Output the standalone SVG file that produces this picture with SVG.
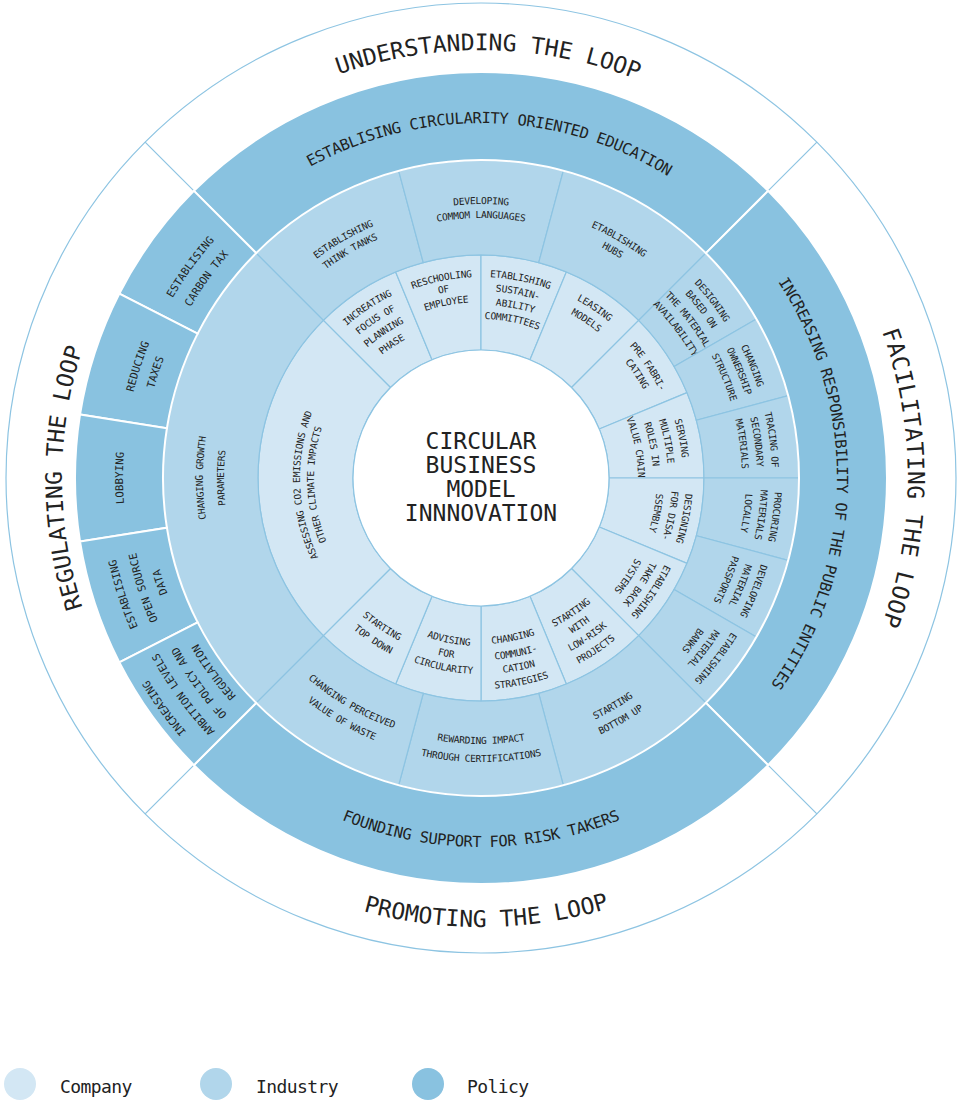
<svg xmlns="http://www.w3.org/2000/svg" xmlns:xlink="http://www.w3.org/1999/xlink" width="960" height="1100" viewBox="0 0 960 1100">
<style>
.co{fill:#d3e7f4;stroke:#8dc4e2;stroke-width:1.2}
.in{fill:#b1d6eb;stroke:#8dc4e2;stroke-width:1.2}
.po{fill:#89c2e0;stroke:#ffffff;stroke-width:2}
.ln{stroke:#8dc4e2;stroke-width:1.2;fill:none}
text{font-family:"DejaVu Sans Mono","Liberation Mono",monospace;fill:#222222;text-anchor:middle}
.s{font-size:9.6px;letter-spacing:-0.25px}
.ps{font-size:10.8px}
.pm{font-size:15.4px;letter-spacing:-0.35px}
.lp{font-size:23px}
.ct{font-size:23px}
.lg{font-size:18px;letter-spacing:-0.6px;text-anchor:start}
</style>
<defs>
<path id="c22" d="M-43.51-218.72A223 223 0 0 1 43.51-218.72L24.97-125.54A128 128 0 0 0-24.97-125.54Z"/>
<path id="c90" d="M-157.69-157.69A223 223 0 0 1 157.69-157.69L90.51-90.51A128 128 0 0 0-90.51-90.51Z"/>
<path id="i30" d="M-82.31-307.17A318 318 0 0 1 82.31-307.17L57.72-215.4A223 223 0 0 0-57.72-215.4Z"/>
<path id="i15" d="M-41.51-315.28A318 318 0 0 1 41.51-315.28L29.11-221.09A223 223 0 0 0-29.11-221.09Z"/>
<path id="i90" d="M-224.86-224.86A318 318 0 0 1 224.86-224.86L157.69-157.69A223 223 0 0 0-157.69-157.69Z"/>
<path id="p90" d="M-287.09-287.09A406 406 0 0 1 287.09-287.09L224.86-224.86A318 318 0 0 0-224.86-224.86Z"/>
<path id="p18" d="M-63.51-401A406 406 0 0 1 63.51-401L49.75-314.09A318 318 0 0 0-49.75-314.09Z"/>
<path id="a157" d="M-157 0A157 157 0 0 1 157 0"/>
<path id="a158" d="M-158 0A158 158 0 0 1 158 0"/>
<path id="a159" d="M-159 0A159 159 0 0 1 159 0"/>
<path id="a167" d="M-167 0A167 167 0 0 1 167 0"/>
<path id="a172" d="M-172 0A172 172 0 0 1 172 0"/>
<path id="a173" d="M-173 0A173 173 0 0 1 173 0"/>
<path id="a174" d="M-174 0A174 174 0 0 1 174 0"/>
<path id="a176" d="M-176 0A176 176 0 0 1 176 0"/>
<path id="a181" d="M-181 0A181 181 0 0 1 181 0"/>
<path id="a185" d="M-185 0A185 185 0 0 1 185 0"/>
<path id="a187" d="M-187 0A187 187 0 0 1 187 0"/>
<path id="a188" d="M-188 0A188 188 0 0 1 188 0"/>
<path id="a189" d="M-189 0A189 189 0 0 1 189 0"/>
<path id="a191" d="M-191 0A191 191 0 0 1 191 0"/>
<path id="a199" d="M-199 0A199 199 0 0 1 199 0"/>
<path id="a201" d="M-201 0A201 201 0 0 1 201 0"/>
<path id="a202" d="M-202 0A202 202 0 0 1 202 0"/>
<path id="a203" d="M-203 0A203 203 0 0 1 203 0"/>
<path id="a205" d="M-205 0A205 205 0 0 1 205 0"/>
<path id="a244" d="M-244 0A244 244 0 0 1 244 0"/>
<path id="a257" d="M-257 0A257 257 0 0 1 257 0"/>
<path id="a259" d="M-259 0A259 259 0 0 1 259 0"/>
<path id="a260" d="M-260 0A260 260 0 0 1 260 0"/>
<path id="a261" d="M-261 0A261 261 0 0 1 261 0"/>
<path id="a263" d="M-263 0A263 263 0 0 1 263 0"/>
<path id="a264" d="M-264 0A264 264 0 0 1 264 0"/>
<path id="a265" d="M-265 0A265 265 0 0 1 265 0"/>
<path id="a274" d="M-274 0A274 274 0 0 1 274 0"/>
<path id="a275" d="M-275 0A275 275 0 0 1 275 0"/>
<path id="a276" d="M-276 0A276 276 0 0 1 276 0"/>
<path id="a277" d="M-277 0A277 277 0 0 1 277 0"/>
<path id="a278" d="M-278 0A278 278 0 0 1 278 0"/>
<path id="a280" d="M-280 0A280 280 0 0 1 280 0"/>
<path id="a289" d="M-289 0A289 289 0 0 1 289 0"/>
<path id="a291" d="M-291 0A291 291 0 0 1 291 0"/>
<path id="a293" d="M-293 0A293 293 0 0 1 293 0"/>
<path id="a294" d="M-294 0A294 294 0 0 1 294 0"/>
<path id="a328" d="M-328 0A328 328 0 0 1 328 0"/>
<path id="a334" d="M-334 0A334 334 0 0 1 334 0"/>
<path id="a337" d="M-337 0A337 337 0 0 1 337 0"/>
<path id="a339" d="M-339 0A339 339 0 0 1 339 0"/>
<path id="a347" d="M-347 0A347 347 0 0 1 347 0"/>
<path id="a353" d="M-353 0A353 353 0 0 1 353 0"/>
<path id="a355" d="M-355 0A355 355 0 0 1 355 0"/>
<path id="a356" d="M-356 0A356 356 0 0 1 356 0"/>
<path id="a357" d="M-357 0A357 357 0 0 1 357 0"/>
<path id="a358" d="M-358 0A358 358 0 0 1 358 0"/>
<path id="a367" d="M-367 0A367 367 0 0 1 367 0"/>
<path id="a374" d="M-374 0A374 374 0 0 1 374 0"/>
<path id="a389" d="M-389 0A389 389 0 0 1 389 0"/>
<path id="a419" d="M-419 0A419 419 0 0 1 419 0"/>
<path id="a427" d="M-427 0A427 427 0 0 1 427 0"/>
<path id="a428" d="M-428 0A428 428 0 0 1 428 0"/>
<path id="b166" d="M-166 0A166 166 0 0 0 166 0"/>
<path id="b168" d="M-168 0A168 168 0 0 0 168 0"/>
<path id="b180" d="M-180 0A180 180 0 0 0 180 0"/>
<path id="b182" d="M-182 0A182 182 0 0 0 182 0"/>
<path id="b195" d="M-195 0A195 195 0 0 0 195 0"/>
<path id="b196" d="M-196 0A196 196 0 0 0 196 0"/>
<path id="b198" d="M-198 0A198 198 0 0 0 198 0"/>
<path id="b210" d="M-210 0A210 210 0 0 0 210 0"/>
<path id="b211" d="M-211 0A211 211 0 0 0 211 0"/>
<path id="b265" d="M-265 0A265 265 0 0 0 265 0"/>
<path id="b266" d="M-266 0A266 266 0 0 0 266 0"/>
<path id="b267" d="M-267 0A267 267 0 0 0 267 0"/>
<path id="b283" d="M-283 0A283 283 0 0 0 283 0"/>
<path id="b284" d="M-284 0A284 284 0 0 0 284 0"/>
<path id="b369" d="M-369 0A369 369 0 0 0 369 0"/>
<path id="b449" d="M-449 0A449 449 0 0 0 449 0"/>
</defs>
<rect width="960" height="1100" fill="#ffffff"/>
<g transform="translate(481 478)">
<g id="connectors">
<circle class="ln" r="475"/>
<line class="ln" x1="287.09" y1="-287.09" x2="335.88" y2="-335.88"/>
<line class="ln" x1="-287.09" y1="-287.09" x2="-335.88" y2="-335.88"/>
<line class="ln" x1="287.09" y1="287.09" x2="335.88" y2="335.88"/>
<line class="ln" x1="-287.09" y1="287.09" x2="-335.88" y2="335.88"/>
</g>
<g id="loop-labels">
<g id="l-understanding" transform="rotate(1)"><text class="lp"><textPath href="#a428" startOffset="50%">UNDERSTANDING THE LOOP</textPath></text></g>
<g id="l-facilitating" transform="rotate(90)"><text class="lp" style="letter-spacing:0.4px"><textPath href="#a427" startOffset="50%">FACILITATING THE LOOP</textPath></text></g>
<g id="l-regulating" transform="rotate(-90)"><text class="lp"><textPath href="#a419" startOffset="50%">REGULATING THE LOOP</textPath></text></g>
<g id="l-promoting" transform="rotate(-0.7)"><text class="lp"><textPath href="#b449" startOffset="50%">PROMOTING THE LOOP</textPath></text></g>
</g>
<g id="company">
<g id="c-increating-focus" transform="rotate(-33.75)"><use href="#c22" class="co"/>
<text class="s"><textPath href="#a203" startOffset="50%">INCREATING</textPath></text>
<text class="s"><textPath href="#a188" startOffset="50%">FOCUS OF</textPath></text>
<text class="s"><textPath href="#a173" startOffset="50%">PLANNING</textPath></text>
<text class="s"><textPath href="#a158" startOffset="50%">PHASE</textPath></text></g>
<g id="c-reschooling" transform="rotate(-11.25)"><use href="#c22" class="co"/>
<text class="s"><textPath href="#a201" startOffset="50%">RESCHOOLING</textPath></text>
<text class="s"><textPath href="#a189" startOffset="50%">OF</textPath></text>
<text class="s"><textPath href="#a176" startOffset="50%">EMPLOYEE</textPath></text></g>
<g id="c-sustainability-committees" transform="rotate(11.25)"><use href="#c22" class="co"/>
<text class="s"><textPath href="#a201" startOffset="50%">ETABLISHING</textPath></text>
<text class="s"><textPath href="#a187" startOffset="50%">SUSTAIN-</textPath></text>
<text class="s"><textPath href="#a173" startOffset="50%">ABILITY</textPath></text>
<text class="s"><textPath href="#a159" startOffset="50%">COMMITTEES</textPath></text></g>
<g id="c-leasing-models" transform="rotate(33.75)"><use href="#c22" class="co"/>
<text class="s"><textPath href="#a202" startOffset="50%">LEASING</textPath></text>
<text class="s"><textPath href="#a187" startOffset="50%">MODELS</textPath></text></g>
<g id="c-prefabricating" transform="rotate(56.25)"><use href="#c22" class="co"/>
<text class="s"><textPath href="#a199" startOffset="50%">PRE FABRI-</textPath></text>
<text class="s"><textPath href="#a185" startOffset="50%">CATING</textPath></text></g>
<g id="c-serving-roles" transform="rotate(78.75)"><use href="#c22" class="co"/>
<text class="s"><textPath href="#a202" startOffset="50%">SERVING</textPath></text>
<text class="s"><textPath href="#a187" startOffset="50%">MULTIPLE</textPath></text>
<text class="s"><textPath href="#a172" startOffset="50%">ROLES IN</textPath></text>
<text class="s"><textPath href="#a157" startOffset="50%">VALUE CHAIN</textPath></text></g>
<g id="c-design-disassembly" transform="rotate(101.25)"><use href="#c22" class="co"/>
<text class="s"><textPath href="#a205" startOffset="50%">DESIGNING</textPath></text>
<text class="s"><textPath href="#a191" startOffset="50%">FOR DISA-</textPath></text>
<text class="s"><textPath href="#a176" startOffset="50%">SSEMBLY</textPath></text></g>
<g id="c-take-back" transform="rotate(123.75)"><use href="#c22" class="co"/>
<text class="s"><textPath href="#a203" startOffset="50%">ETABLISHING</textPath></text>
<text class="s"><textPath href="#a189" startOffset="50%">TAKE BACK</textPath></text>
<text class="s"><textPath href="#a174" startOffset="50%">SYSTEMS</textPath></text></g>
<g id="c-low-risk" transform="rotate(-33.75)"><use href="#c22" class="co" transform="rotate(180)"/>
<text class="s"><textPath href="#b166" startOffset="50%">STARTING</textPath></text>
<text class="s"><textPath href="#b180" startOffset="50%">WITH</textPath></text>
<text class="s"><textPath href="#b195" startOffset="50%">LOW-RISK</textPath></text>
<text class="s"><textPath href="#b210" startOffset="50%">PROJECTS</textPath></text></g>
<g id="c-communication" transform="rotate(-11.25)"><use href="#c22" class="co" transform="rotate(180)"/>
<text class="s"><textPath href="#b166" startOffset="50%">CHANGING</textPath></text>
<text class="s"><textPath href="#b182" startOffset="50%">COMMUNI-</textPath></text>
<text class="s"><textPath href="#b196" startOffset="50%">CATION</textPath></text>
<text class="s"><textPath href="#b211" startOffset="50%">STRATEGIES</textPath></text></g>
<g id="c-advising" transform="rotate(11.25)"><use href="#c22" class="co" transform="rotate(180)"/>
<text class="s"><textPath href="#b168" startOffset="50%">ADVISING</textPath></text>
<text class="s"><textPath href="#b182" startOffset="50%">FOR</textPath></text>
<text class="s"><textPath href="#b196" startOffset="50%">CIRCULARITY</textPath></text></g>
<g id="c-top-down" transform="rotate(33.75)"><use href="#c22" class="co" transform="rotate(180)"/>
<text class="s"><textPath href="#b182" startOffset="50%">STARTING</textPath></text>
<text class="s"><textPath href="#b198" startOffset="50%">TOP DOWN</textPath></text></g>
<g id="c-assessing-co2" transform="rotate(-90)"><use href="#c90" class="co"/>
<g transform="rotate(-2.4)">
<text class="s"><textPath href="#a181" startOffset="50%">ASSESSING CO2 EMISSIONS AND</textPath></text>
<text class="s"><textPath href="#a167" startOffset="50%">OTHER CLIMATE IMPACTS</textPath></text></g></g>
</g>
<g id="industry">
<g id="i-think-tanks" transform="rotate(-30)"><use href="#i30" class="in"/>
<text class="s"><textPath href="#a274" startOffset="50%">ESTABLISHING</textPath></text>
<text class="s"><textPath href="#a260" startOffset="50%">THINK TANKS</textPath></text></g>
<g id="i-common-languages"><use href="#i30" class="in"/>
<text class="s"><textPath href="#a274" startOffset="50%">DEVELOPING</textPath></text>
<text class="s"><textPath href="#a260" startOffset="50%">COMMOM LANGUAGES</textPath></text></g>
<g id="i-hubs" transform="rotate(30)"><use href="#i30" class="in"/>
<text class="s"><textPath href="#a274" startOffset="50%">ETABLISHING</textPath></text>
<text class="s"><textPath href="#a260" startOffset="50%">HUBS</textPath></text></g>
<g id="i-material-availability" transform="rotate(52.5)"><use href="#i15" class="in"/>
<text class="s"><textPath href="#a289" startOffset="50%">DESIGNING</textPath></text>
<text class="s"><textPath href="#a275" startOffset="50%">BASED ON</textPath></text>
<text class="s"><textPath href="#a259" startOffset="50%">THE MATERIAL</textPath></text>
<text class="s"><textPath href="#a244" startOffset="50%">AVAILABILITY</textPath></text></g>
<g id="i-ownership" transform="rotate(67.5)"><use href="#i15" class="in"/>
<text class="s"><textPath href="#a291" startOffset="50%">CHANGING</textPath></text>
<text class="s"><textPath href="#a277" startOffset="50%">OWNERSHIP</textPath></text>
<text class="s"><textPath href="#a261" startOffset="50%">STRUCTURE</textPath></text></g>
<g id="i-tracing" transform="rotate(82.5)"><use href="#i15" class="in"/>
<text class="s"><textPath href="#a291" startOffset="50%">TRACING OF</textPath></text>
<text class="s"><textPath href="#a276" startOffset="50%">SECONDARY</textPath></text>
<text class="s"><textPath href="#a261" startOffset="50%">MATERIALS</textPath></text></g>
<g id="i-procuring" transform="rotate(97.5)"><use href="#i15" class="in"/>
<text class="s"><textPath href="#a294" startOffset="50%">PROCURING</textPath></text>
<text class="s"><textPath href="#a280" startOffset="50%">MATERIALS</textPath></text>
<text class="s"><textPath href="#a265" startOffset="50%">LOCALLY</textPath></text></g>
<g id="i-passports" transform="rotate(112.5)"><use href="#i15" class="in"/>
<text class="s"><textPath href="#a293" startOffset="50%">DEVELOPING</textPath></text>
<text class="s"><textPath href="#a278" startOffset="50%">MATERIAL</textPath></text>
<text class="s"><textPath href="#a263" startOffset="50%">PASSPORTS</textPath></text></g>
<g id="i-material-banks" transform="rotate(127.5)"><use href="#i15" class="in"/>
<text class="s"><textPath href="#a294" startOffset="50%">ETABLISHING</textPath></text>
<text class="s"><textPath href="#a278" startOffset="50%">MATERIAL</textPath></text>
<text class="s"><textPath href="#a264" startOffset="50%">BANKS</textPath></text></g>
<g id="i-bottom-up" transform="rotate(-30)"><use href="#i30" class="in" transform="rotate(180)"/>
<text class="s"><textPath href="#b267" startOffset="50%">STARTING</textPath></text>
<text class="s"><textPath href="#b283" startOffset="50%">BOTTOM UP</textPath></text></g>
<g id="i-certifications"><use href="#i30" class="in" transform="rotate(180)"/>
<text class="s"><textPath href="#b266" startOffset="50%">REWARDING IMPACT</textPath></text>
<text class="s"><textPath href="#b284" startOffset="50%">THROUGH CERTIFICATIONS</textPath></text></g>
<g id="i-waste" transform="rotate(30)"><use href="#i30" class="in" transform="rotate(180)"/>
<text class="s"><textPath href="#b265" startOffset="50%">CHANGING PERCEIVED</textPath></text>
<text class="s"><textPath href="#b283" startOffset="50%">VALUE OF WASTE</textPath></text></g>
<g id="i-growth" transform="rotate(-90)"><use href="#i90" class="in"/>
<text class="s"><textPath href="#a278" startOffset="50%">CHANGING GROWTH</textPath></text>
<text class="s"><textPath href="#a257" startOffset="50%">PARAMETERS</textPath></text></g>
</g>
<g id="policy">
<g id="p-education"><use href="#p90" class="po"/>
<text class="pm" transform="rotate(1.5)"><textPath href="#a355" startOffset="50%">ESTABLISING CIRCULARITY ORIENTED EDUCATION</textPath></text></g>
<g id="p-public-entities" transform="rotate(90)"><use href="#p90" class="po"/>
<text class="pm" transform="rotate(1)"><textPath href="#a356" startOffset="50%">INCREASING RESPONSIBILITY OF THE PUBLIC ENTITIES</textPath></text></g>
<g id="p-risk-takers"><use href="#p90" class="po" transform="rotate(180)"/>
<text class="pm"><textPath href="#b369" startOffset="50%">FOUNDING SUPPORT FOR RISK TAKERS</textPath></text></g>
<g id="p-carbon-tax" transform="rotate(-54)"><use href="#p18" class="po"/>
<text class="ps"><textPath href="#a357" startOffset="50%">ESTABLISING</textPath></text>
<text class="ps"><textPath href="#a337" startOffset="50%">CARBON TAX</textPath></text></g>
<g id="p-reducing-taxes" transform="rotate(-72)"><use href="#p18" class="po"/>
<text class="ps"><textPath href="#a358" startOffset="50%">REDUCING</textPath></text>
<text class="ps"><textPath href="#a339" startOffset="50%">TAXES</textPath></text></g>
<g id="p-lobbying" transform="rotate(-90)"><use href="#p18" class="po"/>
<text class="ps"><textPath href="#a358" startOffset="50%">LOBBYING</textPath></text></g>
<g id="p-open-source" transform="rotate(-108)"><use href="#p18" class="po"/>
<text class="ps"><textPath href="#a374" startOffset="50%">ESTABLISING</textPath></text>
<text class="ps"><textPath href="#a353" startOffset="50%">OPEN SOURCE</textPath></text>
<text class="ps"><textPath href="#a334" startOffset="50%">DATA</textPath></text></g>
<g id="p-ambition" transform="rotate(-126)"><use href="#p18" class="po"/>
<text class="ps"><textPath href="#a389" startOffset="50%">INCREASING</textPath></text>
<text class="ps"><textPath href="#a367" startOffset="50%">AMBITION LEVELS</textPath></text>
<text class="ps"><textPath href="#a347" startOffset="50%">OF POLICY AND</textPath></text>
<text class="ps"><textPath href="#a328" startOffset="50%">REGULATION</textPath></text></g>
</g>
<g id="center-node">
<circle r="128" fill="#ffffff" stroke="#8dc4e2" stroke-width="1.2"/>
<text class="ct" y="-29">CIRCULAR</text>
<text class="ct" y="-5.3">BUSINESS</text>
<text class="ct" y="18.7">MODEL</text>
<text class="ct" y="42.7">INNNOVATION</text>
</g>
</g>
<g id="legend">
<g id="legend-company"><circle cx="20" cy="1084" r="16" fill="#d3e7f4"/><text class="lg" x="60" y="1093">Company</text></g>
<g id="legend-industry"><circle cx="216" cy="1084" r="16" fill="#b1d6eb"/><text class="lg" x="256" y="1093">Industry</text></g>
<g id="legend-policy"><circle cx="428" cy="1084" r="16" fill="#89c2e0"/><text class="lg" x="467" y="1093">Policy</text></g>
</g>
</svg>
